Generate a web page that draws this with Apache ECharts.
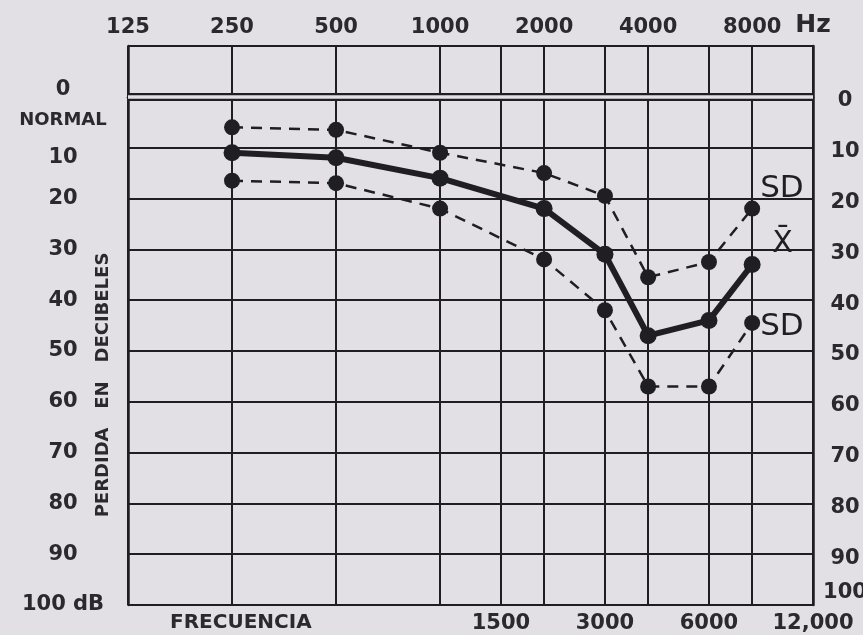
<!DOCTYPE html>
<html>
<head>
<meta charset="utf-8">
<script src="https://cdn.jsdelivr.net/npm/echarts@6/dist/echarts.min.js"></script>
<style>
  html, body { margin: 0; padding: 0; background: #e3e0e5; }
  #chart { width: 863px; height: 635px; }
</style>
</head>
<body>
<div id="chart"></div>
<script>
// audiogram data (dB loss per frequency)
const frequencies = [250, 500, 1000, 2000, 3000, 4000, 6000, 8000];
const sdUpper = [6, 6.5, 11, 15, 19.5, 35.5, 32.5, 22];
const meanLoss = [11, 12, 16, 22, 31, 47, 44, 33];
const sdLower = [16.5, 17, 22, 32, 42, 57, 57, 44.5];

const gridFreqs = [125, 250, 500, 1000, 1500, 2000, 3000, 4000, 6000, 8000, 12000];
const topFreqLabels = [125, 250, 500, 1000, 2000, 4000, 8000, 12000];
const bottomFreqLabels = [1500, 3000, 6000, 12000];

const INK = '#1f1e22';
const BG = '#e3e0e5';
const FONT = 'DejaVu Sans';

const pairs = (vals) => frequencies.map((f, i) => [f, vals[i]]);

const labelStyle = {
  color: '#2a292d',
  fontFamily: FONT,
  fontWeight: 'bold',
  fontSize: 21
};

const chart = echarts.init(document.getElementById('chart'));

const baseX = {
  type: 'log',
  logBase: 2,
  min: 125,
  max: 12000,
  axisLine: { show: true, lineStyle: { color: INK, width: 2.5 } },
  axisTick: { show: false, customValues: gridFreqs },
  splitLine: { show: false }
};

const baseY = {
  type: 'value',
  inverse: true,
  min: -10,
  max: 100,
  interval: 10,
  axisLine: { show: true, lineStyle: { color: INK, width: 2.5 } },
  axisTick: { show: false }
};

const dashed = (name, data, label, offset) => ({
  name: name,
  type: 'line',
  data: pairs(data),
  symbol: 'circle',
  symbolSize: 16,
  itemStyle: { color: INK },
  lineStyle: { color: INK, width: 2.5, type: [11, 8] },
  endLabel: {
    show: true,
    formatter: label,
    offset: offset,
    color: INK,
    fontFamily: FONT,
    fontSize: 31
  },
  silent: true,
  z: 4
});

chart.setOption({
  backgroundColor: BG,
  animation: false,
  grid: { left: 128, right: 50, top: 46, bottom: 30, outerBoundsMode: 'none' },
  xAxis: [
    Object.assign({}, baseX, {
      position: 'bottom',
      splitLine: { show: true, lineStyle: { color: INK, width: 2 } },
      axisLabel: Object.assign({}, labelStyle, {
        customValues: bottomFreqLabels,
        margin: 8,
        formatter: (v) => (v === 12000 ? '12,000' : String(v))
      })
    }),
    Object.assign({}, baseX, {
      position: 'top',
      axisLabel: Object.assign({}, labelStyle, {
        customValues: topFreqLabels,
        margin: 8,
        formatter: (v) => (v === 12000 ? '{hz|Hz}' : String(v)),
        rich: { hz: { fontSize: 25, fontFamily: FONT, color: '#2a292d' } }
      })
    })
  ],
  yAxis: [
    Object.assign({}, baseY, {
      position: 'left',
      splitLine: { show: true, lineStyle: { color: INK, width: 2 } },
      axisLabel: Object.assign({}, labelStyle, {
        margin: 65,
        align: 'center',
        formatter: (v) => {
          if (v === -10) return '';
          if (v === 0) return '{zero|0}\n{gap| }';
          if (v === 10) return '{norm|NORMAL}\n{ten|10}';
          if (v === 100) return '100 dB';
          return String(v);
        },
        rich: {
          zero: { lineHeight: 20 },
          gap: { lineHeight: 14 },
          norm: { lineHeight: 20, fontSize: 18 },
          ten: { lineHeight: 54 }
        }
      })
    }),
    Object.assign({}, baseY, {
      position: 'right',
      splitLine: { show: false },
      axisLabel: Object.assign({}, labelStyle, {
        margin: 32,
        align: 'center',
        formatter: (v) => (v === -10 ? '' : v === 100 ? '{h|100}' : '{n|' + v + '}'),
        rich: {
          h: { padding: [0, 0, 24, 0] },
          n: { padding: [8, 0, 0, 0] }
        }
      })
    })
  ],
  graphic: [
    {
      type: 'text',
      left: 170,
      top: 613,
      style: { text: 'FRECUENCIA', fill: '#2a292d', font: 'bold 20px "DejaVu Sans"' }
    },
    {
      type: 'text',
      x: 103,
      y: 385,
      rotation: Math.PI / 2,
      style: {
        text: 'PERDIDA   EN   DECIBELES',
        fill: '#2a292d',
        font: 'bold 18px "DejaVu Sans"',
        align: 'center',
        verticalAlign: 'middle'
      }
    }
  ],
  series: [
    {
      // double line at 0 dB (normal hearing)
      type: 'line',
      data: [],
      silent: true,
      markLine: {
        silent: true,
        symbol: 'none',
        label: { show: false },
        data: [
          { yAxis: 0, lineStyle: { color: INK, width: 8, type: 'solid' } },
          { yAxis: 0, lineStyle: { color: BG, width: 3.5, type: 'solid' } }
        ]
      }
    },
    dashed('SD +', sdUpper, 'SD', [0, -20]),
    {
      name: 'Media',
      type: 'line',
      data: pairs(meanLoss),
      symbol: 'circle',
      symbolSize: 17,
      itemStyle: { color: INK },
      lineStyle: { color: INK, width: 6 },
      endLabel: {
        show: true,
        formatter: 'X\u0304',
        offset: [12, -20],
        color: INK,
        fontFamily: FONT,
        fontSize: 30
      },
      silent: true,
      z: 5
    },
    dashed('SD -', sdLower, 'SD', [0, 4])
  ]
});
</script>
</body>
</html>
